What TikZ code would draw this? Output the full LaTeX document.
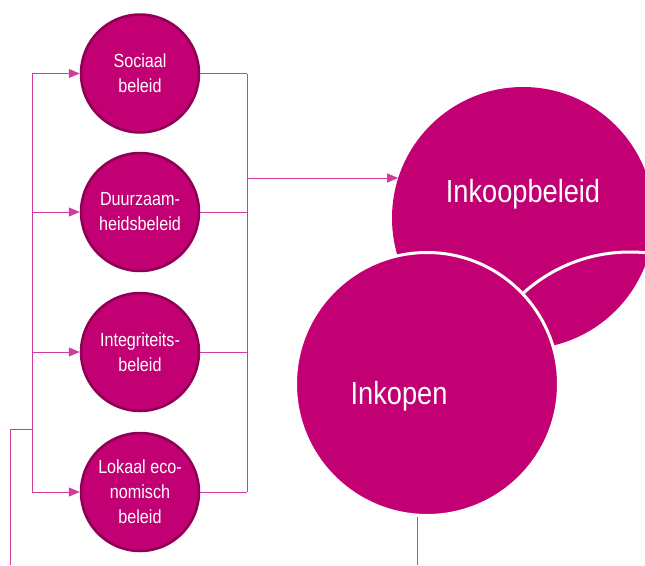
\documentclass[tikz,border=0pt]{standalone}
\usepackage{fontspec}
\setmainfont{Liberation Sans}[FakeStretch=0.85]
\usetikzlibrary{arrows.meta}
\definecolor{paars}{HTML}{C20073}
\definecolor{paarsdonker}{HTML}{8E0054}
\definecolor{lijn}{HTML}{D03C9A}
\tikzset{
	beleid/.style={circle,fill=paars,draw=paarsdonker,line width=2.5pt,minimum size=118pt,inner sep=0pt,text=white,align=center,font=\fontsize{19}{25}\selectfont},
	groot/.style={circle,fill=paars,minimum size=262pt,inner sep=0pt}
}
\tikzset{
	grootlabel/.style={text=white,anchor=base,inner sep=0pt,font=\fontsize{32}{38}\selectfont},
	lijntje/.style={draw=lijn,line width=1pt},
	pijl/.style={lijntje,-{Triangle[length=11pt,width=9pt]}}
}

\begin{document}
\begin{tikzpicture}[x=1pt,y=-1pt]
\clip (0,0) rectangle (645,565);

%beleid
\node[beleid] (sociaal) at (140,73.5) {Sociaal\\beleid};
\node[beleid] (duurzaam) at (140,212) {Duurzaam-\\heidsbeleid};
\node[beleid] (integriteit) at (140,352) {Integriteits-\\beleid};
\node[beleid] (lokaal) at (140,492) {Lokaal eco-\\nomisch\\beleid};

\coordinate (lbus) at (32,0);
\coordinate (rbus) at (247,0);
\draw[lijntje] (lbus |- sociaal) -- (lbus |- lokaal);
\draw[lijntje] (rbus |- sociaal) -- (rbus |- lokaal);
\foreach \n in {sociaal,duurzaam,integriteit,lokaal} {
	\draw[pijl] (lbus |- \n) -- (\n);
	\draw[lijntje] (\n) -- (rbus |- \n);
}

%inkoop
\node[groot] (inkoopbeleid) at (523,218) {};
\begin{scope}
	\clip (inkoopbeleid.center) circle[radius=131pt];
	\draw[white,line width=3pt] (630,411) circle[radius=159pt];
\end{scope}
\node[groot,draw=white,line width=3pt,minimum size=263pt] (inkopen) at (427,384) {};
\node[grootlabel] (inkoopbeleidlabel) at ([shift={(0,-16)}]inkoopbeleid.center) {Inkoopbeleid};
\node[grootlabel] (inkopenlabel) at ([shift={(-28,20)}]inkopen.center) {Inkopen};

\coordinate (samen) at (247,178);
\draw[pijl] (samen) -- (samen -| inkoopbeleid.162);

%terugkoppeling
\coordinate (terugonder) at (417,565);
\draw[lijntje] (terugonder) -- (terugonder |- inkopen.south);
\coordinate (terugrand) at (10,565);
\coordinate (terugin) at (32,429);
\draw[lijntje] (terugrand) |- (terugin);
\end{tikzpicture}
\end{document}
